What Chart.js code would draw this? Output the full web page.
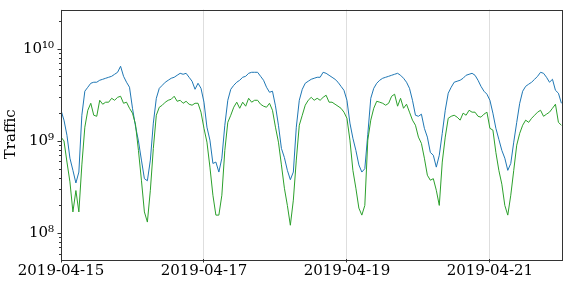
<!DOCTYPE html>
<html><head><meta charset="utf-8">
<script src="https://cdn.jsdelivr.net/npm/chart.js@4/dist/chart.umd.min.js"></script>
<style>html,body{margin:0;padding:0;background:#fff;overflow:hidden}#wrap{width:568px;height:284px}</style>
</head><body><div id="wrap"><canvas id="c" width="568" height="284"></canvas></div>
<script>
// hours since 2019-04-15 00:00 (one sample per hour)
const hourOffsets = Array.from({length: 169}, (_, i) => i);

const blueTraffic = [
  2.15e9,1.68e9,1.15e9,6.5e8,4.8e8,3.5e8,4.6e8,1.9e9,3.46e9,3.82e9,4.22e9,4.33e9,4.33e9,4.55e9,4.66e9,4.78e9,4.9e9,5.02e9,5.28e9,5.55e9,6.45e9,5.02e9,4.33e9,3.82e9,
  2.26e9,1.45e9,1.0e9,6.2e8,3.9e8,3.7e8,6.2e8,1.56e9,2.9e9,3.72e9,4.01e9,4.33e9,4.55e9,4.78e9,4.9e9,5.15e9,5.41e9,5.28e9,5.41e9,4.9e9,4.44e9,3.63e9,4.22e9,3.72e9,
  2.63e9,1.41e9,1.02e9,5.7e8,5.9e8,4.6e8,6.5e8,1.48e9,2.76e9,3.63e9,4.01e9,4.33e9,4.55e9,4.9e9,5.02e9,5.41e9,5.55e9,5.55e9,5.55e9,5.02e9,4.55e9,3.82e9,3.37e9,3.46e9,
  2.4e9,1.48e9,8.3e8,6.6e8,4.8e8,3.8e8,4.6e8,1.41e9,2.76e9,3.63e9,4.22e9,4.44e9,4.66e9,4.78e9,4.9e9,4.9e9,5.55e9,5.41e9,5.15e9,4.9e9,4.66e9,4.33e9,3.91e9,3.54e9,
  2.76e9,1.56e9,1.07e9,7.9e8,5.5e8,4.6e8,5.0e8,1.18e9,2.9e9,3.72e9,4.22e9,4.55e9,4.78e9,4.9e9,5.02e9,5.15e9,5.28e9,5.41e9,5.15e9,4.78e9,4.33e9,3.72e9,2.76e9,1.9e9,
  1.85e9,1.95e9,1.37e9,1.1e9,7.5e8,7.0e8,5.2e8,7.0e8,1.21e9,2.15e9,3.29e9,3.82e9,4.33e9,4.44e9,4.55e9,4.78e9,5.15e9,5.28e9,5.41e9,5.15e9,4.55e9,3.91e9,3.46e9,3.21e9,
  2.76e9,2.0e9,1.37e9,1.04e9,7.9e8,6.5e8,4.8e8,5.7e8,9.7e8,1.59e9,2.56e9,3.46e9,3.91e9,4.12e9,4.33e9,4.66e9,5.02e9,5.55e9,5.41e9,4.9e9,4.33e9,4.66e9,3.54e9,3.29e9,2.56e9
];

const greenTraffic = [
  1.1e9,1.0e9,5.9e8,3.6e8,1.7e8,2.9e8,1.7e8,5.5e8,1.41e9,2.15e9,2.56e9,1.9e9,1.85e9,2.76e9,2.5e9,2.63e9,2.63e9,2.9e9,2.76e9,2.97e9,3.05e9,2.56e9,2.63e9,2.26e9,
  2.0e9,1.52e9,7.9e8,3.75e8,1.7e8,1.32e8,2.92e8,8.3e8,1.9e9,2.32e9,2.44e9,2.63e9,2.76e9,2.83e9,3.05e9,2.69e9,2.76e9,2.56e9,2.69e9,2.5e9,2.44e9,2.56e9,2.56e9,2.05e9,
  1.37e9,9.7e8,5.2e8,2.58e8,1.57e8,1.57e8,2.58e8,7.9e8,1.59e9,1.9e9,2.32e9,2.63e9,2.26e9,2.63e9,2.38e9,2.9e9,2.63e9,2.76e9,2.76e9,2.5e9,2.38e9,2.32e9,2.56e9,2.15e9,
  1.41e9,9.7e8,5.5e8,3.07e8,2.0e8,1.22e8,2.28e8,6.2e8,1.48e9,1.9e9,2.44e9,2.76e9,2.97e9,2.76e9,2.9e9,2.76e9,2.97e9,3.13e9,2.63e9,2.63e9,2.5e9,2.38e9,2.26e9,2.05e9,
  1.76e9,1.02e9,4.8e8,3.07e8,1.87e8,1.57e8,2.0e8,1.02e9,1.68e9,2.26e9,2.69e9,2.63e9,2.56e9,2.44e9,2.56e9,3.05e9,3.21e9,2.38e9,2.9e9,2.26e9,2.5e9,2.05e9,1.68e9,1.48e9,
  1.1e9,9.4e8,6.5e8,4.25e8,3.75e8,3.9e8,2.92e8,2.0e8,5.9e8,1.1e9,1.76e9,1.85e9,1.9e9,1.81e9,1.68e9,2.0e9,1.9e9,2.15e9,2.05e9,2.05e9,1.85e9,1.81e9,1.95e9,2.05e9,
  1.37e9,1.31e9,7.5e8,4.8e8,3.4e8,2.0e8,1.57e8,2.58e8,4.8e8,9.0e8,1.21e9,1.48e9,1.68e9,1.59e9,1.76e9,1.9e9,2.05e9,2.15e9,1.85e9,1.95e9,2.05e9,2.26e9,2.5e9,1.59e9,1.48e9
];

const xTickHours = [0, 48, 96, 144];
const xTickLabels = ['2019-04-15', '2019-04-17', '2019-04-19', '2019-04-21'];
const yTickValues = [1e8, 1e9, 1e10];
const yTickLabels = ['10\u2078', '10\u2079', '10\u00b9\u2070'];
const yTitle = 'Traffic';

const X_MAX = 168.3, Y_MIN = 5.25e7, Y_MAX = 2.66e10;
const FONT = "'DejaVu Serif', serif";

const framePlugin = {
  id: 'frame',
  afterDraw(chart) {
    const {ctx, chartArea: a} = chart;
    const ys = chart.scales.y;
    ctx.save();
    ctx.strokeStyle = '#333';
    ctx.lineWidth = 1;
    ys.ticks.forEach(t => {
      const p = Math.round(ys.getPixelForValue(t.value)) + 0.5;
      const len = t.major ? 3.5 : 2;
      ctx.beginPath();
      ctx.moveTo(a.left - len, p);
      ctx.lineTo(a.left, p);
      ctx.stroke();
    });
    ctx.strokeRect(Math.round(a.left) + 0.5, Math.round(a.top) + 0.5,
      Math.round(a.right - a.left), Math.round(a.bottom - a.top));
    ctx.restore();
  }
};

new Chart(document.getElementById('c'), {
  type: 'line',
  data: {
    datasets: [
      { label: 'green', data: greenTraffic.map((v, i) => ({x: hourOffsets[i], y: v})),
        borderColor: '#2ca02c', borderWidth: 1, pointRadius: 0, tension: 0, order: 0 },
      { label: 'blue', data: blueTraffic.map((v, i) => ({x: hourOffsets[i], y: v})),
        borderColor: '#1f77b4', borderWidth: 1, pointRadius: 0, tension: 0, order: 1 }
    ]
  },
  options: {
    responsive: false, animation: false, devicePixelRatio: 1,
    layout: { padding: { top: 9.5, right: 5.7, left: 0, bottom: 0 } },
    plugins: { legend: { display: false }, tooltip: { enabled: false } },
    scales: {
      x: {
        type: 'linear', min: 0, max: X_MAX,
        afterBuildTicks: s => { s.ticks = xTickHours.map(v => ({value: v})); },
        afterFit: s => { s.height = 25; s.paddingLeft = 0; s.paddingRight = 0; },
        ticks: {
          autoSkip: false, maxRotation: 0, padding: 0, color: '#000',
          font: { family: FONT, size: 15 },
          callback: v => { const i = xTickHours.indexOf(v); return i >= 0 ? xTickLabels[i] : ''; }
        },
        grid: { color: '#dedede', lineWidth: 1, tickColor: '#333', tickLength: 3.5, drawTicks: true },
        border: { display: false }
      },
      y: {
        type: 'logarithmic', min: Y_MIN, max: Y_MAX,
        afterBuildTicks: s => {
          const t = [];
          for (let e = 7; e <= 10; e++) for (let m = 1; m <= 9; m++) {
            const v = m * Math.pow(10, e);
            if (v >= Y_MIN && v <= Y_MAX) t.push({value: v, major: m === 1});
          }
          s.ticks = t;
        },
        afterFit: s => { s.width = 61; s.paddingTop = 0; s.paddingBottom = 0; },
        ticks: {
          autoSkip: false, padding: 7, color: '#000',
          font: { family: FONT, size: 15 },
          callback: v => {
            const i = yTickValues.findIndex(t => Math.abs(t - v) / t < 1e-6);
            return i >= 0 ? yTickLabels[i] : '';
          }
        },
        grid: { drawOnChartArea: false, drawTicks: false },
        border: { display: false },
        title: { display: true, text: yTitle, color: '#000', font: { family: FONT, size: 15 }, padding: { top: 2, bottom: 0 } }
      }
    }
  },
  plugins: [framePlugin]
});
</script></body></html>
